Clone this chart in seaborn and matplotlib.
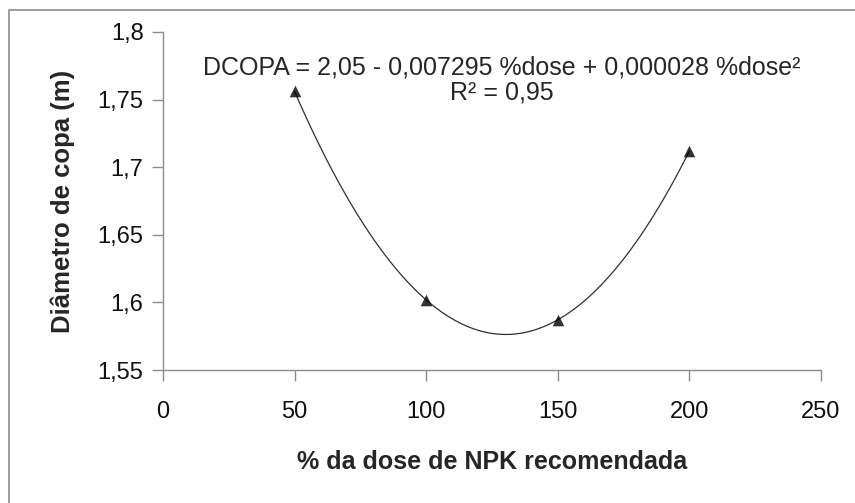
import numpy as np
import pandas as pd
import matplotlib
matplotlib.use("Agg")
import matplotlib.pyplot as plt
from matplotlib.ticker import FuncFormatter
from matplotlib.patches import Rectangle
import seaborn as sns

# data
dose = [50, 100, 150, 200]
dcopa = [1.756, 1.602, 1.587, 1.712]
x_ticks = [0, 50, 100, 150, 200, 250]
y_ticks = [1.55, 1.6, 1.65, 1.7, 1.75, 1.8]
equation = "DCOPA = 2,05 - 0,007295 %dose + 0,000028 %dose²"
r2_text = "R² = 0,95"

df = pd.DataFrame({"dose": dose, "dcopa": dcopa})

sns.set_style("white", {"xtick.bottom": True, "ytick.left": True})
plt.rcParams["font.family"] = ["Liberation Sans", "DejaVu Sans"]

fig = plt.figure(figsize=(8.55, 5.03), dpi=100)
ax = fig.add_axes([0.1906, 0.2644, 0.7696, 0.672])

sns.regplot(data=df, x="dose", y="dcopa", order=2, ci=None, ax=ax,
            marker="^", truncate=True,
            scatter_kws={"color": "black", "s": 70, "zorder": 3, "linewidths": 0},
            line_kws={"color": "#303030", "lw": 0.9})

ax.set_xlim(0, 250)
ax.set_ylim(1.55, 1.8)
ax.set_xticks(x_ticks)
ax.set_yticks(y_ticks)
comma = FuncFormatter(lambda v, p: ("%g" % v).replace(".", ","))
ax.xaxis.set_major_formatter(comma)
ax.yaxis.set_major_formatter(comma)

for s in ["top", "right"]:
    ax.spines[s].set_visible(False)
for s in ["left", "bottom"]:
    ax.spines[s].set_color("#8c8c8c")
    ax.spines[s].set_linewidth(1.0)
ax.tick_params(axis="both", direction="out", length=8, width=1,
               color="#8c8c8c", labelsize=17, labelcolor="#111111")
ax.tick_params(axis="y", pad=6)
ax.tick_params(axis="x", pad=14)

ax.set_xlabel("% da dose de NPK recomendada", fontsize=18, fontweight="bold",
              labelpad=20)
ax.set_ylabel("Diâmetro de copa (m)", fontsize=18.5, fontweight="bold",
              labelpad=16)

ax.text(0.5155, 0.896, equation, transform=ax.transAxes, ha="center",
        va="center", fontsize=18)
ax.text(0.5155, 0.82, r2_text, transform=ax.transAxes, ha="center",
        va="center", fontsize=18)

# outer chart frame
fig.patches.append(Rectangle((9 / 855, -0.05), 1.1, 1 - 10 / 503 + 0.05,
                             transform=fig.transFigure, fill=False,
                             edgecolor="#8c8c8c", lw=1.2))

fig.savefig("out.png", dpi=100)
